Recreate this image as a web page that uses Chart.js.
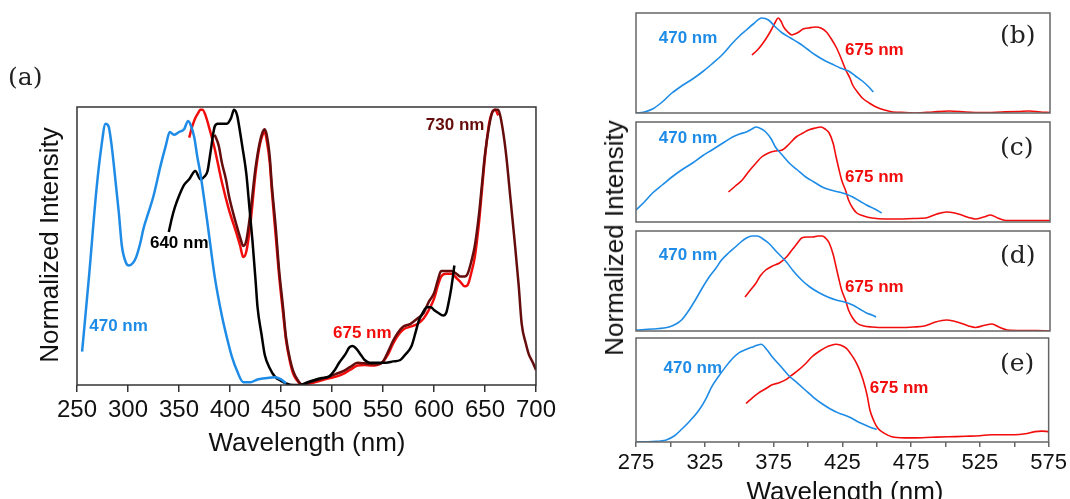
<!DOCTYPE html>
<html>
<head>
<meta charset="utf-8">
<script src="https://cdn.jsdelivr.net/npm/chart.js@4.4.1/dist/chart.umd.min.js"></script>
<style>
body { margin: 0; background: #fff; width: 1070px; height: 499px; overflow: hidden; position: relative; font-family: "Liberation Sans", Arial, sans-serif; }
.box { position: absolute; }
.tag { position: absolute; font-family: "DejaVu Serif", serif; font-size: 25px; color: #222; line-height: 1; }
.title { position: absolute; font-size: 26px; color: #111; white-space: nowrap; line-height: 1; }
.vert { transform: translate(-50%, -50%) rotate(-90deg); }
.hor { transform: translate(-50%, -50%); }
</style>
</head>
<body>
<div class="box" id="pa" style="left:0;top:0;width:560px;height:499px"><canvas id="ca"></canvas></div>
<div class="box" id="pb" style="left:632px;top:9px;width:422px;height:108px"><canvas id="cb"></canvas></div>
<div class="box" id="pc" style="left:632px;top:118px;width:422px;height:108px"><canvas id="cc"></canvas></div>
<div class="box" id="pd" style="left:632px;top:227px;width:422px;height:108px"><canvas id="cd"></canvas></div>
<div class="box" id="pe" style="left:600px;top:334px;width:470px;height:165px"><canvas id="ce"></canvas></div>

<div class="tag" style="left:8px;top:64px">(a)</div>
<div class="tag" style="left:1000px;top:22px">(b)</div>
<div class="tag" style="left:1000px;top:134px">(c)</div>
<div class="tag" style="left:1000px;top:242px">(d)</div>
<div class="tag" style="left:1000px;top:350px">(e)</div>

<div class="title vert" style="left:49px;top:245px">Normalized Intensity</div>
<div class="title hor" style="left:307px;top:442px">Wavelength (nm)</div>
<div class="title vert" style="left:614px;top:238px">Normalized Intensity</div>
<div class="title hor" style="left:845px;top:491px">Wavelength (nm)</div>

<script>
// Panel (a): excitation spectra, [wavelength, normalized intensity]
const a470 = [[255,0.12],[262,0.40],[269,0.70],[274,0.86],[278,0.94],[281,0.93],[284,0.86],[287,0.76],[291,0.62],[294,0.50],[298,0.44],[301,0.43],[305,0.44],[308,0.46],[312,0.51],[315,0.56],[320,0.62],[325,0.68],[332,0.79],[337,0.86],[341,0.91],[345,0.90],[350,0.91],[355,0.92],[359,0.95],[362,0.93],[365,0.89],[368,0.82],[371,0.76],[375,0.66],[378,0.58],[385,0.39],[392,0.25],[397,0.17],[402,0.10],[407,0.05],[413,0.01],[420,0.01],[427,0.02],[434,0.024],[444,0.028],[450,0.02],[455,0.006]];
const a640 = [[340,0.55],[343,0.60],[346,0.64],[350,0.68],[355,0.72],[360,0.74],[366,0.77],[371,0.74],[375,0.75],[378,0.77],[381,0.84],[385,0.93],[388,0.94],[392,0.94],[397,0.94],[401,0.96],[404,0.99],[407,0.97],[409,0.93],[412,0.86],[416,0.76],[419,0.64],[422,0.52],[425,0.38],[427,0.28],[431,0.18],[434,0.11],[439,0.06],[444,0.03],[450,0.015],[455,0.006],[462,0.0],[469,0.0],[476,0.01],[483,0.018],[490,0.025],[497,0.03],[502,0.05],[507,0.08],[513,0.11],[517,0.135],[520,0.14],[524,0.13],[528,0.11],[532,0.09],[537,0.08],[542,0.08],[548,0.08],[553,0.08],[560,0.085],[567,0.09],[572,0.11],[578,0.14],[582,0.19],[585,0.23],[589,0.26],[593,0.28],[597,0.28],[600,0.27],[604,0.26],[609,0.25],[612,0.26],[614,0.29],[617,0.35],[620,0.43]];
const a675 = [[360,0.89],[363,0.93],[366,0.96],[369,0.98],[371,0.99],[373,0.99],[376,0.97],[380,0.92],[385,0.85],[392,0.73],[399,0.63],[406,0.55],[410,0.50],[413,0.46],[416,0.48],[420,0.58],[425,0.76],[429,0.86],[432,0.90],[434,0.91],[436,0.88],[439,0.80],[441,0.70],[445,0.53],[448,0.40],[452,0.26],[455,0.16],[459,0.08],[462,0.04],[466,0.015],[471,0.0],[477,0.005],[483,0.01],[490,0.017],[497,0.024],[504,0.03],[511,0.04],[518,0.055],[525,0.07],[532,0.072],[539,0.07],[544,0.072],[549,0.08],[555,0.11],[560,0.15],[565,0.18],[570,0.20],[577,0.21],[584,0.22],[590,0.24],[595,0.27],[600,0.31],[604,0.36],[607,0.39],[612,0.40],[617,0.40],[622,0.385],[626,0.37],[630,0.355],[633,0.36],[637,0.41],[640,0.46],[644,0.58],[647,0.70],[650,0.82],[654,0.94],[657,0.98],[660,0.99],[663,0.97]];
const a730 = [[385,0.90],[389,0.86],[392,0.80],[396,0.74],[399,0.68],[403,0.62],[406,0.58],[410,0.53],[413,0.50],[416,0.52],[420,0.62],[425,0.78],[429,0.87],[432,0.91],[434,0.92],[436,0.90],[439,0.82],[441,0.72],[445,0.56],[448,0.42],[452,0.28],[455,0.17],[459,0.09],[462,0.05],[466,0.02],[471,0.0],[477,0.008],[483,0.015],[490,0.022],[497,0.03],[504,0.04],[511,0.05],[518,0.065],[525,0.08],[532,0.078],[539,0.075],[544,0.075],[549,0.08],[555,0.12],[560,0.16],[565,0.19],[570,0.21],[577,0.22],[584,0.24],[590,0.26],[595,0.30],[600,0.33],[604,0.38],[607,0.41],[612,0.41],[617,0.41],[622,0.40],[626,0.39],[630,0.39],[633,0.40],[637,0.45],[640,0.50],[644,0.61],[647,0.72],[650,0.83],[654,0.93],[657,0.98],[660,0.99],[663,0.99],[666,0.95],[669,0.88],[671,0.82],[675,0.67],[679,0.52],[683,0.36],[686,0.22],[690,0.15],[693,0.11],[697,0.08],[700,0.054]];

// Panels (b)-(e): emission spectra
const b470 = [[275,0.0],[281,0.01],[287,0.04],[294,0.11],[301,0.20],[308,0.27],[316,0.34],[323,0.41],[330,0.49],[338,0.59],[345,0.70],[350,0.77],[355,0.83],[360,0.89],[366,0.95],[371,0.93],[376,0.86],[381,0.80],[387,0.75],[393,0.70],[399,0.64],[405,0.58],[411,0.53],[417,0.49],[423,0.45],[429,0.42],[434,0.37],[439,0.32],[443,0.27],[447,0.21]];
const b675 = [[359,0.58],[363,0.63],[366,0.68],[370,0.76],[373,0.83],[376,0.91],[378,0.95],[380,0.92],[382,0.86],[385,0.81],[388,0.78],[390,0.79],[393,0.81],[396,0.84],[400,0.85],[405,0.86],[409,0.85],[413,0.81],[417,0.73],[420,0.66],[422,0.60],[425,0.50],[427,0.43],[430,0.35],[432,0.28],[436,0.20],[439,0.15],[444,0.10],[449,0.06],[455,0.03],[461,0.01],[470,0.005],[478,0.0],[490,0.01],[502,0.02],[514,0.01],[526,0.005],[540,0.01],[552,0.015],[560,0.02],[568,0.01],[575,0.005]];
const c470 = [[275,0.12],[281,0.20],[287,0.29],[294,0.37],[301,0.45],[308,0.52],[316,0.59],[323,0.66],[330,0.72],[338,0.79],[345,0.85],[350,0.88],[355,0.90],[359,0.93],[362,0.95],[366,0.93],[369,0.90],[373,0.83],[376,0.75],[381,0.67],[386,0.59],[392,0.52],[398,0.45],[404,0.40],[410,0.35],[416,0.32],[422,0.30],[427,0.28],[432,0.25],[437,0.21],[442,0.17],[448,0.13],[453,0.09]];
const c675 = [[342,0.30],[347,0.36],[352,0.42],[357,0.51],[362,0.59],[366,0.65],[371,0.69],[376,0.71],[381,0.72],[386,0.78],[391,0.85],[396,0.89],[400,0.92],[405,0.94],[409,0.95],[412,0.93],[415,0.89],[418,0.78],[420,0.65],[422,0.53],[424,0.42],[427,0.31],[429,0.22],[432,0.14],[435,0.09],[440,0.06],[446,0.04],[456,0.03],[466,0.03],[476,0.035],[485,0.04],[493,0.08],[500,0.10],[506,0.09],[511,0.07],[516,0.045],[521,0.03],[527,0.05],[532,0.07],[537,0.04],[543,0.015],[555,0.015],[565,0.015],[575,0.015]];
const d470 = [[275,0.01],[287,0.02],[299,0.04],[304,0.07],[308,0.11],[313,0.20],[318,0.31],[323,0.43],[328,0.54],[333,0.63],[337,0.71],[342,0.78],[347,0.84],[351,0.89],[355,0.93],[359,0.95],[363,0.95],[367,0.92],[371,0.88],[377,0.79],[384,0.69],[389,0.60],[395,0.51],[401,0.44],[408,0.38],[414,0.34],[420,0.31],[426,0.29],[432,0.26],[437,0.22],[442,0.18],[446,0.16],[449,0.14]];
const d675 = [[354,0.34],[358,0.41],[362,0.48],[365,0.55],[369,0.61],[374,0.65],[379,0.68],[384,0.74],[388,0.81],[392,0.88],[395,0.93],[399,0.94],[403,0.94],[407,0.95],[410,0.95],[413,0.92],[415,0.88],[418,0.76],[420,0.64],[422,0.52],[424,0.41],[427,0.30],[429,0.21],[432,0.13],[435,0.08],[440,0.05],[446,0.04],[456,0.035],[466,0.035],[476,0.04],[484,0.05],[492,0.09],[500,0.11],[505,0.10],[510,0.08],[516,0.05],[521,0.035],[527,0.055],[533,0.07],[538,0.04],[544,0.01],[555,0.005],[565,0.005],[575,0.0]];
const e470 = [[275,0.0],[287,0.005],[297,0.02],[303,0.06],[308,0.12],[314,0.20],[321,0.31],[326,0.42],[330,0.53],[335,0.63],[340,0.72],[345,0.80],[350,0.86],[355,0.89],[359,0.91],[363,0.93],[366,0.94],[370,0.89],[374,0.82],[380,0.73],[386,0.64],[392,0.57],[398,0.50],[404,0.43],[410,0.37],[416,0.32],[422,0.28],[430,0.24],[437,0.19],[444,0.15],[450,0.12]];
const e675 = [[355,0.37],[360,0.43],[364,0.47],[369,0.51],[374,0.55],[379,0.57],[384,0.60],[388,0.64],[393,0.69],[398,0.75],[403,0.82],[408,0.87],[413,0.91],[417,0.93],[420,0.94],[424,0.93],[428,0.90],[431,0.85],[434,0.79],[437,0.71],[440,0.60],[443,0.45],[445,0.31],[448,0.20],[451,0.13],[456,0.08],[461,0.05],[470,0.04],[478,0.04],[490,0.045],[502,0.05],[515,0.055],[525,0.06],[533,0.07],[542,0.07],[550,0.07],[558,0.08],[565,0.10],[570,0.105],[575,0.10]];

// tick labels
const aTicks = [250, 300, 350, 400, 450, 500, 550, 600, 650, 700];
const rightTicks = [275, 325, 375, 425, 475, 525, 575];

const BLUE = '#1e8ce6';
const RED = '#f20d0d';
const BLACK = '#000000';
const MAROON = '#650c0c';
const FONT = '"Liberation Sans", Arial, sans-serif';

function pts(arr) {
    return arr.map(function(p) { return { x: p[0], y: p[1] }; });
}

function series(arr, color, width) {
    return {
        data: pts(arr),
        borderColor: color,
        borderWidth: width,
        pointRadius: 0,
        fill: false,
        cubicInterpolationMode: 'monotone'
    };
}

// box around the plot area
function frame(color) {
    return {
        id: 'frame',
        afterDraw: function(chart) {
            const ctx = chart.ctx, a = chart.chartArea;
            ctx.save();
            ctx.strokeStyle = color;
            ctx.lineWidth = 1.5;
            ctx.strokeRect(a.left, a.top, a.right - a.left, a.bottom - a.top);
            ctx.restore();
        }
    };
}

// coloured "xxx nm" labels placed in data coordinates
function notes(list) {
    return {
        id: 'notes',
        afterDatasetsDraw: function(chart) {
            const ctx = chart.ctx, x = chart.scales.x, y = chart.scales.y;
            ctx.save();
            ctx.font = 'bold 17px ' + FONT;
            ctx.textBaseline = 'middle';
            ctx.textAlign = 'left';
            list.forEach(function(n) {
                ctx.fillStyle = n.color;
                ctx.fillText(n.text, x.getPixelForValue(n.x), y.getPixelForValue(n.y));
            });
            ctx.restore();
        }
    };
}

// Panel (a)
new Chart(document.getElementById('ca'), {
    type: 'line',
    data: {
        datasets: [
            series(a470, BLUE, 2.5),
            series(a640, BLACK, 2.5),
            series(a730, MAROON, 2.5),
            series(a675, RED, 2.5)
        ]
    },
    options: {
        responsive: true,
        maintainAspectRatio: false,
        animation: false,
        layout: { padding: { left: 77, top: 107, right: 24, bottom: 0 } },
        plugins: { legend: { display: false }, tooltip: { enabled: false } },
        scales: {
            x: {
                type: 'linear', min: 250, max: 700,
                grid: { drawOnChartArea: false, tickLength: 7, color: '#333', lineWidth: 1.5 },
                border: { display: false },
                ticks: {
                    stepSize: 50, padding: 4, color: '#111',
                    maxRotation: 0, minRotation: 0, autoSkip: false,
                    font: { family: FONT, size: 24 },
                    callback: function(v) { return aTicks.indexOf(v) >= 0 ? String(v) : ''; }
                },
                afterFit: function(s) { s.height = 114; }
            },
            y: { display: false, min: 0, max: 1 }
        }
    },
    plugins: [frame('#333'), notes([
        { text: '470 nm', x: 262, y: 0.21, color: BLUE },
        { text: '640 nm', x: 321.5, y: 0.51, color: BLACK },
        { text: '675 nm', x: 501, y: 0.187, color: RED },
        { text: '730 nm', x: 592, y: 0.935, color: MAROON }
    ])]
});

// Panels (b)-(e)
function emission(id, blue, red, labels, withAxis) {
    const xScale = {
        type: 'linear', min: 275, max: 575,
        display: withAxis,
        grid: { drawOnChartArea: false, tickLength: 5, color: '#666', lineWidth: 1.5 },
        border: { display: false },
        ticks: {
            stepSize: 25, padding: 3, color: '#111',
            maxRotation: 0, minRotation: 0, autoSkip: false,
            font: { family: FONT, size: 22 },
            callback: function(v) { return rightTicks.indexOf(v) >= 0 ? String(v) : ''; }
        }
    };
    if (withAxis) xScale.afterFit = function(s) { s.height = 57; };
    new Chart(document.getElementById(id), {
        type: 'line',
        data: { datasets: [series(blue, BLUE, 1.6), series(red, RED, 1.6)] },
        options: {
            responsive: true,
            maintainAspectRatio: false,
            animation: false,
            layout: { padding: withAxis ? { left: 36, top: 4, right: 20, bottom: 0 } : 4 },
            plugins: { legend: { display: false }, tooltip: { enabled: false } },
            scales: { x: xScale, y: { display: false, min: 0, max: 1 } }
        },
        plugins: [frame('#666'), notes(labels)]
    });
}

emission('cb', b470, b675, [
    { text: '470 nm', x: 291.5, y: 0.75, color: BLUE },
    { text: '675 nm', x: 426.5, y: 0.63, color: RED }
], false);
emission('cc', c470, c675, [
    { text: '470 nm', x: 291.5, y: 0.84, color: BLUE },
    { text: '675 nm', x: 426.5, y: 0.45, color: RED }
], false);
emission('cd', d470, d675, [
    { text: '470 nm', x: 291.5, y: 0.76, color: BLUE },
    { text: '675 nm', x: 426.5, y: 0.44, color: RED }
], false);
emission('ce', e470, e675, [
    { text: '470 nm', x: 295, y: 0.71, color: BLUE },
    { text: '675 nm', x: 445, y: 0.52, color: RED }
], true);
</script>
</body>
</html>
